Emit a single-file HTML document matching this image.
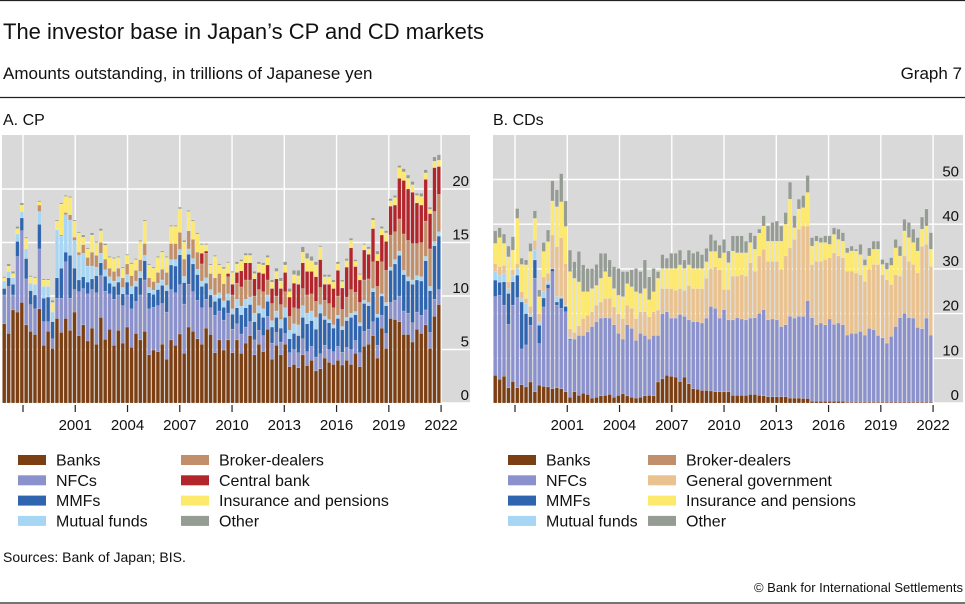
<!DOCTYPE html>
<html><head><meta charset="utf-8">
<style>
body{margin:0;background:#fff;}
svg{display:block;font-family:"Liberation Sans",sans-serif;}
</style></head>
<body>
<svg id="chart" width="965" height="604" viewBox="0 0 965 604" xmlns="http://www.w3.org/2000/svg">
<line x1="0" y1="0.5" x2="965" y2="0.5" stroke="#222" stroke-width="1.2"/>
<text x="3" y="39" font-size="22" fill="#111">The investor base in Japan’s CP and CD markets</text>
<text x="3" y="79" font-size="17" fill="#111">Amounts outstanding, in trillions of Japanese yen</text>
<text x="962" y="79" font-size="17" fill="#111" text-anchor="end">Graph 7</text>
<line x1="0" y1="97.5" x2="965" y2="97.5" stroke="#222" stroke-width="1.2"/>
<text x="3" y="125" font-size="16" fill="#111">A. CP</text>
<text x="493" y="125" font-size="16" fill="#111">B. CDs</text>
<g id="panelA"></g>
<g id="panelB"></g>
<g id="legendA"></g>
<g id="legendB"></g>
<text x="3" y="562" font-size="14" fill="#111">Sources: Bank of Japan; BIS.</text>
<text x="963" y="592" font-size="13" fill="#111" text-anchor="end">© Bank for International Settlements</text>
<line x1="0" y1="603" x2="965" y2="603" stroke="#222" stroke-width="1.2"/>
</svg>
<script>
// ---------- Panel A (CP) data, trillions of yen, quarterly 1997Q1..2021Q4 ----------
const cpBanks=[7.4,6.5,8.7,8.5,9.4,7.3,6.7,6.4,8.8,5.4,6.7,5.1,7.9,6.6,7.9,6.8,8.5,6.3,7.3,5.8,7.0,5.5,8.0,5.95,6.9,5.4,6.8,5.6,7.1,5.2,6.5,5.9,6.7,4.5,4.95,4.8,5.5,4.1,5.9,5.4,6.45,4.65,7.1,6.7,6.0,5.5,7.0,6.4,4.7,5.9,4.95,5.9,4.7,5.9,4.65,5.6,6.3,4.5,5.5,4.8,6.9,4.1,5.4,4.5,5.5,3.4,3.6,3.3,4.5,3.5,4.0,3.0,3.2,4.2,3.8,3.6,4.0,3.55,4.0,3.6,4.65,3.4,5.3,5.5,6.3,4.2,7.0,5.1,7.9,7.8,7.6,6.4,6.4,5.7,6.9,6.5,7.3,5.1,8.1,9.2];
const cpNFCs=[2.7,4.4,1.4,5.2,6.7,4.3,2.5,2.4,5.6,2.2,0.9,0.9,1.9,3.2,5.3,3.0,2.1,4.1,3.4,4.4,3.6,4.8,3.9,4.5,3.3,4.3,3.3,3.5,3.0,3.6,3.0,4.2,4.8,4.3,4.0,4.3,3.8,4.4,4.7,4.9,4.6,4.6,4.0,3.7,3.6,3.4,2.7,2.5,3.5,2.7,2.8,2.5,2.2,1.5,1.8,1.5,1.3,1.4,1.3,1.5,1.2,1.5,1.2,1.2,1.0,1.3,1.4,1.4,1.5,1.3,1.3,1.3,1.4,1.2,1.2,1.2,1.3,1.2,1.2,1.4,1.2,1.3,1.4,1.4,1.3,1.2,1.2,1.4,1.5,1.8,2.4,2.2,2.0,1.8,1.6,1.7,1.4,1.5,1.6,1.4];
const cpMMFs=[0.6,0.8,1.0,1.4,1.2,1.9,1.3,1.3,2.3,2.2,2.3,1.6,1.9,2.8,0.9,4.0,2.0,1.1,1.1,1.1,1.0,1.6,1.2,1.4,1.0,1.2,1.2,1.1,1.2,1.4,1.4,1.6,1.8,1.5,1.2,1.5,1.7,2.0,2.3,2.5,2.8,2.0,2.8,2.6,2.4,2.0,1.5,1.2,1.3,1.2,1.2,1.2,1.4,1.5,1.8,1.8,1.6,1.7,1.6,1.7,1.4,1.5,1.4,1.3,1.5,1.3,1.5,1.6,2.0,2.6,2.4,2.6,3.8,2.4,2.5,2.2,2.6,2.1,2.5,3.0,2.4,2.5,2.6,2.2,2.8,2.6,1.8,2.6,3.0,3.4,3.8,3.4,3.0,3.6,3.0,3.2,4.6,3.9,5.0,5.0];
const cpMutual=[0.7,0.6,0.6,0.7,0.6,0.9,0.7,1.0,1.2,1.1,1.0,0.9,4.5,3.0,3.5,3.3,2.6,2.3,2.2,1.5,1.2,0.8,0.9,0.6,0.6,0.5,0.5,0.6,0.7,0.7,0.5,0.6,0.5,0.5,0.4,0.6,0.5,0.5,0.5,0.6,0.5,0.6,0.5,0.5,0.5,0.5,0.5,0.5,0.6,0.5,0.6,0.6,0.5,0.8,0.8,0.8,0.7,0.8,0.7,0.8,0.6,0.6,0.6,0.8,0.9,0.8,0.9,1.0,1.1,1.0,0.9,1.1,0.8,0.3,0.3,0.3,0.3,0.3,0.3,0.4,0.3,0.3,0.3,0.3,0.3,0.3,0.2,0.3,0.3,0.4,0.4,0.4,0.4,0.4,0.4,0.4,0.4,0.4,0.4,0.4];
const cpBroker=[0,0,0,0,0,0,0,0,0.6,0,0,0,0,0.1,0.2,0.5,0.3,0.3,0.8,0.8,1.3,1.1,1.0,1.0,0.8,0.9,0.8,0.9,1.0,1.0,1.0,1.1,1.1,0.9,0.8,1.0,1.0,1.2,1.5,1.5,1.6,1.6,1.7,1.8,1.6,1.6,2.3,1.5,1.6,1.8,1.6,1.6,1.3,1.5,1.8,1.8,1.6,1.6,1.5,1.6,1.4,1.6,1.4,1.4,1.5,1.3,1.5,1.5,1.6,1.7,1.6,1.5,1.6,1.5,1.5,1.6,1.8,1.6,1.9,2.2,1.8,1.9,1.9,2.2,2.5,2.6,3.0,3.0,3.0,2.6,3.0,3.4,3.4,3.4,3.0,3.2,3.3,3.5,2.8,3.5];
const cpCentral=[0,0,0,0,0,0,0,0,0,0,0,0,0,0,0,0,0,0,0,0,0,0,0,0,0,0,0,0,0,0,0,0,0,0,0,0,0,0,0,0,0,0,0,0,0,1.0,0.2,0,0,0,0,0.3,1.0,1.0,1.5,1.6,1.6,1.6,1.6,1.7,1.4,1.4,1.6,1.5,1.8,1.8,2.3,2.3,2.4,2.2,2.1,2.3,2.6,1.5,1.8,1.8,2.4,2.0,2.8,3.9,2.4,2.1,2.8,2.3,3.1,2.4,2.5,2.7,2.7,2.5,3.8,5.0,4.8,4.8,3.8,3.5,3.9,3.3,4.1,2.6];
const cpInsurance=[0.3,0.5,0.4,0.5,0.6,1.0,0.6,0.6,0.3,0.6,0.6,0.9,0.8,2.9,1.5,1.6,1.5,1.8,0.7,0.8,1.6,1.2,1.1,1.3,1.0,1.2,1.0,0.9,0.8,1.1,1.0,1.7,2.1,1.2,1.25,1.4,1.6,1.4,1.6,1.6,2.2,1.6,1.8,1.7,1.7,0.8,0.6,0.8,2.0,0.8,1.4,1.0,1.1,0.8,0.9,0.7,0.7,0.5,0.8,0.8,0.7,0.6,0.7,0.7,0.7,0.5,0.8,0.8,1.0,1.2,1.0,1.1,1.2,0.7,0.7,0.6,0.6,0.6,0.6,0.7,0.5,0.5,0.5,0.5,0.8,0.6,0.6,0.8,0.5,0.7,1.0,0.8,1.0,0.7,0.7,0.8,0.6,0.4,0.6,0.6];
const cpOther=[0.1,0.2,0.2,0.2,0.2,0.1,0.1,0.1,0.1,0.1,0.1,0.2,0.1,0.1,0.1,0.1,0.1,0.1,0.2,0.1,0.2,0.1,0.2,0.15,0.1,0.1,0.1,0.1,0.1,0.1,0.1,0.1,0.1,0.1,0.1,0.1,0.1,0.1,0.1,0.1,0.15,0.15,0.1,0.1,0.1,0.1,0.1,0.1,0.1,0.1,0.15,0.1,0.1,0.2,0.15,0.2,0.2,0.2,0.2,0.2,0.2,0.2,0.3,0.3,0.3,0.3,0.4,0.5,0.5,0.5,0.4,0.3,0.1,0.2,0.2,0.2,0.2,0.15,0.2,0.2,0.15,0.1,0.1,0.2,0.2,0.3,0.2,0.2,0.2,0.2,0.2,0.3,0.3,0.3,0.2,0.3,0.3,0.2,0.4,0.5];
const cpTicks=[0,5,10,15,20];

// ---------- Panel B (CDs) data ----------
const cdBanks=[6.2,5.3,6.0,3.4,4.8,3.4,4.1,3.6,4.7,2.5,4.0,3.7,3.6,3.2,3.4,3.2,2.5,1.3,2.5,1.7,2.2,1.9,1.1,1.3,1.6,1.7,1.9,1.3,1.7,2.1,1.6,1.3,1.1,1.3,1.6,1.7,1.6,4.7,5.4,6.2,6.0,5.8,4.8,5.8,4.3,3.2,3.1,2.8,2.8,2.7,2.5,2.5,2.5,2.5,1.7,1.7,1.7,1.7,1.9,1.9,1.7,1.6,1.4,1.4,1.4,1.4,1.4,1.1,1.1,1.1,1.0,1.0,0.4,0.4,0.4,0.4,0.4,0.4,0.4,0.4,0.2,0.2,0.2,0.2,0.2,0.2,0.2,0.2,0.2,0.2,0.2,0.2,0.2,0.2,0.2,0.2,0.2,0.2,0.2,0.2];
const cdNFCs=[17.6,18.8,15.9,14.2,17.1,20.2,8.0,9.4,12.7,25.4,9.3,17.8,22.0,26.2,18.5,18.0,17.9,12.7,11.8,13.4,12.9,14.0,16.0,16.9,17.4,17.4,17.1,16.2,13.9,12.2,15.9,15.4,12.9,14.3,13.5,12.6,13.5,10.4,14.6,14.2,13.0,13.2,15.0,13.6,14.3,15.0,15.1,15.1,16.2,18.9,18.7,16.5,18.4,16.1,16.9,17.4,17.1,16.9,17.1,17.2,18.4,19.3,17.2,17.4,17.2,15.7,16.1,18.3,17.9,18.3,18.4,21.9,18.7,17.1,17.5,17.1,18.4,17.2,17.5,17.1,15.0,15.4,15.4,15.8,15.0,16.5,16.2,14.9,14.4,13.2,14.7,16.9,18.9,19.9,18.9,18.8,16.7,16.4,18.8,15.0];
const cdMMFs=[3.7,2.9,5.2,6.9,5.2,5.0,10.5,7.0,1.9,4.1,4.1,2.0,0.9,0.6,0.7,2.2,1.2,0.3];
const cdMutual=[1.9,1.5,1.9,1.1,1.5,1.5,0.8,2.3,0.5,2.2,0.7,1.4,0.6,0,1.2,0.4,0.3,0.3];
const cdGov=[1.8,2.0,1.8,1.5,1.2,1.1,1.5,1.1,1.8,2.2,1.9,3.3,1.9,7.6,11.2,13.2,9.3,2.0,1.5,2.2,3.8,3.7,3.3,3.7,3.6,4.3,4.4,4.0,4.4,4.6,4.4,4.5,4.9,4.8,5.3,5.0,5.3,5.7,5.6,5.2,6.6,6.2,5.8,5.8,7.7,7.4,7.4,7.7,8.9,8.5,9.3,10.8,4.5,6.8,9.8,9.3,9.9,9.8,12.4,10.4,12.8,13.5,13.1,12.9,13.1,12.8,15.4,15.3,17.6,19.5,20.2,16.7,11.9,14.2,13.8,14.6,13.7,16.0,15.0,15.0,14.3,13.9,13.5,12.7,12.0,13.2,14.6,15.9,14.1,14.2,11.6,11.6,9.3,12.8,12.6,12.0,12.2,18.5,16.5,15.4];
const cdInsurance=[4.5,6.5,4.9,5.6,4.4,10.1,6.1,7.5,12.3,4.9,3.8,5.7,7.1,7.6,8.9,8.0,8.3,12.8,12.1,9.8,6.0,5.3,5.2,4.4,5.3,6.0,4.8,4.1,4.1,4.9,4.8,4.8,6.0,4.1,5.2,3.8,4.5,7.1,4.5,4.5,4.5,4.9,5.3,4.9,4.6,4.5,4.5,4.5,3.7,3.8,3.4,2.6,8.2,6.0,5.6,5.2,4.9,5.2,4.5,4.9,5.1,5.2,4.5,4.5,4.5,6.3,7.1,10.9,2.6,4.5,4.1,7.5,4.1,4.5,4.2,3.8,3.0,4.1,3.7,3.7,4.1,4.5,4.9,4.5,3.6,3.0,3.4,3.4,2.3,2.3,4.3,6.0,4.5,5.6,5.3,4.9,4.9,3.8,4.1,3.8];
const cdOther=[2.8,2.2,2.1,2.4,3.0,2.2,1.4,1.1,1.8,1.7,1.5,2.0,2.6,4.5,3.8,6.3,5.7,4.8,3.7,6.8,6.0,5.2,4.5,4.7,5.6,4.1,3.8,4.9,6.0,5.6,2.7,3.8,5.2,4.9,6.4,5.1,5.2,1.5,3.1,2.3,3.4,3.4,3.3,1.9,3.3,3.4,3.8,3.1,3.0,3.8,2.5,2.9,3.0,2.6,3.4,3.8,3.8,2.6,2.2,3.0,0.9,2.3,3.4,4.2,4.5,3.4,2.6,3.8,2.7,2.2,2.7,3.8,1.9,1.2,1.1,1.5,1.9,1.5,2.3,1.9,1.1,1.1,0.4,2.3,1.3,1.8,1.8,1.8,1.1,1.5,1.7,1.9,2.2,2.6,3.4,3.0,3.0,2.7,3.8,3.7];
const cdTicks=[0,10,20,30,40,50];

const yearLabels=["2001","2004","2007","2010","2013","2016","2019","2022"];
const allYears=[1998,2001,2004,2007,2010,2013,2016,2019,2022];

const NS="http://www.w3.org/2000/svg";
const C={banks:"#7b3f13",nfc:"#8b91cc",mmf:"#2f64ae",mf:"#a6d6f3",bd:"#c1906b",cb:"#b1252b",gov:"#e9c290",ins:"#fde96c",oth:"#959c93"};

function mk(tag,attrs,parent){const e=document.createElementNS(NS,tag);for(const k in attrs)e.setAttribute(k,attrs[k]);parent.appendChild(e);return e;}

function drawPanel(g,cfg){
  const yS=v=>cfg.y0-v*cfg.k;
  const xYear=yr=>cfg.tick0+(yr-1998)*17.42;
  const bg=mk("rect",{x:cfg.left,y:135,width:cfg.right-cfg.left,height:cfg.y0-135,fill:"#d9d9d9"},g);
  
  
  cfg.ticks.forEach(t=>{
    const ln=mk("line",{x1:cfg.left,x2:cfg.right,y1:yS(t),y2:yS(t),stroke:"#fff","stroke-width":1.4},g);
    
    
  });
  allYears.forEach(yr=>{
    const ln=mk("line",{x1:xYear(yr),x2:xYear(yr),y1:135,y2:cfg.y0,stroke:"#fff","stroke-width":1.4},g);
    
    
  });
  const n=cfg.series[0].vals.length;
  for(let i=0;i<n;i++){
    let acc=0;
    const bx=cfg.left+cfg.step*i+0.5;
    cfg.series.forEach(s=>{
      const v=s.vals[i]||0;
      if(v<=0)return;
      const r=mk("rect",{x:bx,y:yS(acc+v),width:cfg.step-0.9,height:v*cfg.k,fill:s.color,stroke:"rgba(255,255,255,0.35)","stroke-width":0.4},g);
      
      
      acc+=v;
    });
  }
  allYears.forEach(yr=>{
    const tk=mk("line",{x1:xYear(yr),x2:xYear(yr),y1:cfg.y0+2,y2:cfg.y0+9,stroke:"#222","stroke-width":1.2},g);
    
    
  });
  yearLabels.forEach(lb=>{
    const t=mk("text",{x:xYear(+lb),y:430,"font-size":15,"text-anchor":"middle",fill:"#111"},g);
    t.textContent=lb;
    
    
  });
  cfg.ticks.forEach(tv=>{
    const t=mk("text",{x:cfg.labelX,y:yS(tv)-3,"font-size":15,"text-anchor":"end",fill:"#111"},g);
    t.textContent=String(tv);
    
    
  });
}

drawPanel(document.getElementById("panelA"),{left:2,right:470,step:4.39,y0:403,k:10.7,tick0:23,labelX:469,ticks:cpTicks,
  series:[{name:"banks",vals:cpBanks,color:C.banks},{name:"nfcs",vals:cpNFCs,color:C.nfc},{name:"mmfs",vals:cpMMFs,color:C.mmf},{name:"mutual-funds",vals:cpMutual,color:C.mf},{name:"broker-dealers",vals:cpBroker,color:C.bd},{name:"central-bank",vals:cpCentral,color:C.cb},{name:"insurance-pensions",vals:cpInsurance,color:C.ins},{name:"other",vals:cpOther,color:C.oth}]});
drawPanel(document.getElementById("panelB"),{left:493,right:963,step:4.4,y0:403,k:4.47,tick0:515,labelX:959,ticks:cdTicks,
  series:[{name:"banks",vals:cdBanks,color:C.banks},{name:"nfcs",vals:cdNFCs,color:C.nfc},{name:"mmfs",vals:cdMMFs,color:C.mmf},{name:"mutual-funds",vals:cdMutual,color:C.mf},{name:"general-government",vals:cdGov,color:C.gov},{name:"insurance-pensions",vals:cdInsurance,color:C.ins},{name:"other",vals:cdOther,color:C.oth}]});

function legend(g,x0,x1,items){
  items.forEach((it,idx)=>{
    const col=idx<4?x0:x1, row=idx%4, cy=460+row*20.3;
    const sw=mk("rect",{x:col,y:cy-5,width:28,height:10,fill:it[1]},g);
    
    
    const t=mk("text",{x:col+38,y:cy+5.5,"font-size":16,fill:"#111"},g);
    t.textContent=it[0];
    
    
  });
}
legend(document.getElementById("legendA"),18,181,[["Banks",C.banks,"banks"],["NFCs",C.nfc,"nfcs"],["MMFs",C.mmf,"mmfs"],["Mutual funds",C.mf,"mutual-funds"],["Broker-dealers",C.bd,"broker-dealers"],["Central bank",C.cb,"central-bank"],["Insurance and pensions",C.ins,"insurance-pensions"],["Other",C.oth,"other"]]);
legend(document.getElementById("legendB"),508,648,[["Banks",C.banks,"banks"],["NFCs",C.nfc,"nfcs"],["MMFs",C.mmf,"mmfs"],["Mutual funds",C.mf,"mutual-funds"],["Broker-dealers",C.bd,"broker-dealers"],["General government",C.gov,"general-government"],["Insurance and pensions",C.ins,"insurance-pensions"],["Other",C.oth,"other"]]);
</script>
</body></html>
